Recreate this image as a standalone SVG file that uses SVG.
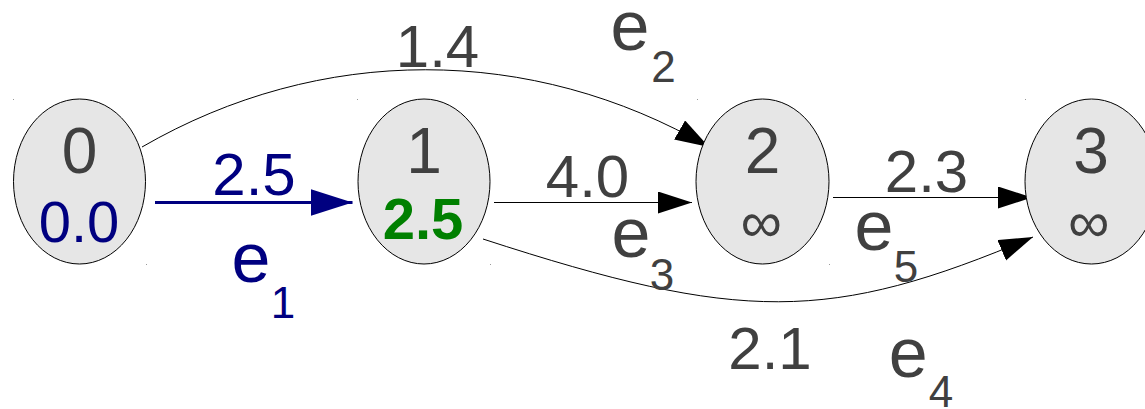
<svg xmlns="http://www.w3.org/2000/svg" width="1145" height="409" viewBox="0 0 1145 409">
  <style>
    .node ellipse { fill: #e6e6e6; stroke: #000000; stroke-width: 1; }
    .lbl { font-family: "Liberation Sans", Arial, sans-serif; fill: #404040; text-anchor: middle; }
    .name { font-size: 64px; }
    .dist { font-size: 58px; }
    .w { font-size: 60px; }
    .e { font-size: 70px; }
    .sub { font-size: 44px; }
    .navy { fill: #000080; }
    .green { fill: #008000; font-weight: bold; }
    .edge { fill: none; stroke: #000000; stroke-width: 1; }
    .tree { fill: none; stroke: #000080; stroke-width: 3; }
    .tick { fill: #9a9a9a; }
  </style>
  <defs>
    <marker id="arrow" markerUnits="userSpaceOnUse" markerWidth="36" markerHeight="24" refX="34" refY="11" orient="auto">
      <path d="M0,0 L34,11 L0,22 Z" fill="#000000"/>
    </marker>
    <marker id="arrow-navy" markerUnits="userSpaceOnUse" markerWidth="44" markerHeight="30" refX="42" refY="13.5" orient="auto">
      <path d="M0,0 L42,13.5 L0,27 Z" fill="#000080"/>
    </marker>
  </defs>
  <rect width="1145" height="409" fill="#ffffff"/>

  <!-- connectors -->
  <g id="edges">
    <path class="edge" d="M142,147 C320,44 531,44 709,147" marker-end="url(#arrow)"/>
    <path class="tree" d="M155,202.5 L352.5,202.5" marker-end="url(#arrow-navy)"/>
    <path class="edge" d="M494,202.5 L692,202.5" marker-end="url(#arrow)"/>
    <path class="edge" d="M833,197.5 L1032,197.5" marker-end="url(#arrow)"/>
    <path class="edge" d="M483,239 C741,323 830,323 1033,237" marker-end="url(#arrow)"/>
  </g>

  <!-- edge labels -->
  <g id="edge-labels">
    <text class="lbl w" x="437.5" y="67">1.4</text>
    <text class="lbl e" x="630" y="50">e</text>
    <text class="lbl sub" x="663.5" y="81.7">2</text>

    <text class="lbl w navy" x="254" y="195">2.5</text>
    <text class="lbl e navy" x="251" y="282">e</text>
    <text class="lbl sub navy" x="283" y="318">1</text>

    <text class="lbl w" x="587.5" y="196.7">4.0</text>
    <text class="lbl e" x="631" y="256.7">e</text>
    <text class="lbl sub" x="662" y="290">3</text>

    <text class="lbl w" x="926.5" y="191.7">2.3</text>
    <text class="lbl e" x="874" y="250">e</text>
    <text class="lbl sub" x="906" y="281.7">5</text>

    <text class="lbl w" x="770" y="369.3">2.1</text>
    <text class="lbl e" x="908.3" y="376.7">e</text>
    <text class="lbl sub" x="941" y="406.7">4</text>
  </g>

  <!-- nodes -->
  <g id="node-0" class="node">
    <ellipse cx="79.5" cy="181.5" rx="66" ry="82.5"/>
    <text class="lbl name" x="79.5" y="172.7">0</text>
    <text class="lbl dist navy" x="79" y="242">0.0</text>
    <rect class="tick" x="13" y="99" width="1" height="1"/>
    <rect class="tick" x="146" y="264" width="1" height="1"/>
  </g>
  <g id="node-1" class="node">
    <ellipse cx="424" cy="181.5" rx="66" ry="82.5"/>
    <text class="lbl name" x="424" y="173.3">1</text>
    <text class="lbl dist green" x="423" y="239">2.5</text>
    <rect class="tick" x="357" y="99" width="1" height="1"/>
    <rect class="tick" x="490" y="264" width="1" height="1"/>
  </g>
  <g id="node-2" class="node">
    <ellipse cx="762.5" cy="181.5" rx="66.5" ry="82.5"/>
    <text class="lbl name" x="762.5" y="173">2</text>
    <text class="lbl dist" x="761.5" y="242">∞</text>
    <rect class="tick" x="697" y="99" width="1" height="1"/>
    <rect class="tick" x="829" y="264" width="1" height="1"/>
  </g>
  <g id="node-3" class="node">
    <ellipse cx="1091.5" cy="181.5" rx="66.5" ry="82.5"/>
    <text class="lbl name" x="1091" y="173">3</text>
    <text class="lbl dist" x="1089" y="242">∞</text>
    <rect class="tick" x="1025" y="99" width="1" height="1"/>
  </g>
</svg>
